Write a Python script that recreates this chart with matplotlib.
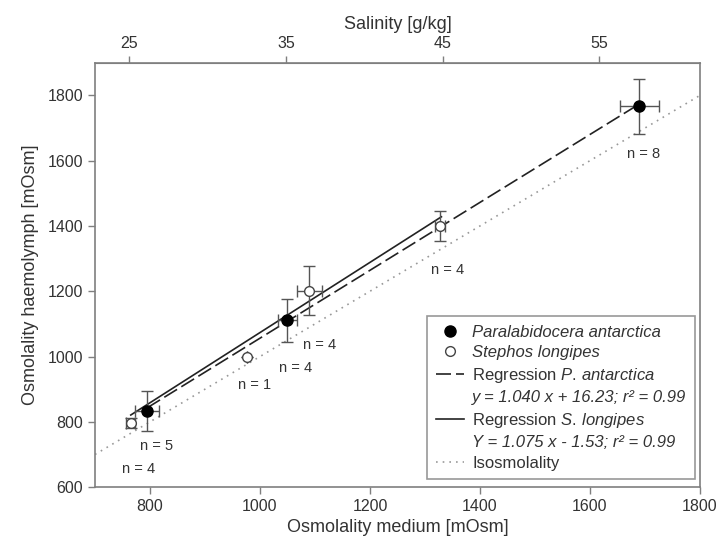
import numpy as np
import matplotlib
matplotlib.use("Agg")
import matplotlib.pyplot as plt
from matplotlib.lines import Line2D

plt.rcParams["font.family"] = ["Liberation Sans", "DejaVu Sans"]
plt.rcParams["mathtext.fontset"] = "custom"
plt.rcParams["mathtext.rm"] = "Liberation Sans"
plt.rcParams["mathtext.it"] = "Liberation Sans:italic"

# Paralabidocera antarctica (filled)
pa_x = [794, 1050, 1690]
pa_y = [832, 1111, 1767]
pa_xerr = [22, 17, 35]
pa_yerr = [61, 66, 84]

# Stephos longipes (open)
sl_x = [765, 976, 1090, 1327]
sl_y = [797, 1000, 1202, 1401]
sl_xerr = [8, 0, 23, 9]
sl_yerr = [16, 0, 76, 46]

# regressions
pa_slope, pa_icpt = 1.040, 16.23
sl_slope, sl_icpt = 1.075, -1.53
pa_range = [795, 1690]
sl_range = [765, 1330]
iso_range = [700, 1800]

# sample size labels
n_text = ["n = 4", "n = 5", "n = 1", "n = 4", "n = 4", "n = 4", "n = 8"]
n_x = [779, 812, 991, 1065, 1109, 1342, 1697]
n_y = [654, 726, 912, 965, 1034, 1264, 1621]

sal_ticks = [25, 35, 45, 55]

grey = "#7f7f7f"
txt = "#333333"

fig = plt.figure(figsize=(7.2, 5.51), dpi=100)
ax = fig.add_axes([0.132, 0.116, 0.840, 0.770])

xs = np.array(iso_range)
ax.plot(xs, xs, linestyle=(0, (1, 3)), color="#999999", lw=1.2)
xp = np.array(pa_range)
ax.plot(xp, pa_slope * xp + pa_icpt, color="#222222", lw=1.2, dashes=(9, 3))
xl = np.array(sl_range)
ax.plot(xl, sl_slope * xl + sl_icpt, color="#222222", lw=1.2)

ax.errorbar(sl_x, sl_y, xerr=sl_xerr, yerr=sl_yerr, fmt="o", mfc="white",
            mec="#444444", ms=7, ecolor="#555555", elinewidth=1, capsize=4,
            capthick=1, zorder=4)
ax.errorbar(pa_x, pa_y, xerr=pa_xerr, yerr=pa_yerr, fmt="o", color="black",
            ms=8, ecolor="#555555", elinewidth=1, capsize=4, capthick=1,
            zorder=5)

for t, x, y in zip(n_text, n_x, n_y):
    ax.text(x, y, t, ha="center", va="center", fontsize=10.5, color=txt)

ax.set_xlim(700, 1800)
ax.set_ylim(600, 1900)
ax.set_xticks([800, 1000, 1200, 1400, 1600, 1800])
ax.set_yticks([600, 800, 1000, 1200, 1400, 1600, 1800])
ax.set_xlabel("Osmolality medium [mOsm]", fontsize=13, color=txt, labelpad=4)
ax.set_ylabel("Osmolality haemolymph [mOsm]", fontsize=13, color=txt, labelpad=6)

for sp in ax.spines.values():
    sp.set_color(grey)
    sp.set_linewidth(1.2)
ax.tick_params(direction="out", length=5, width=1, color=grey,
               labelsize=11.5, labelcolor=txt)

sec = ax.secondary_xaxis("top", functions=(lambda o: (o - 50) / 28.5,
                                            lambda s: s * 28.5 + 50))
sec.set_xticks(sal_ticks)
sec.set_xlabel("Salinity [g/kg]", fontsize=13, color=txt, labelpad=5)
sec.tick_params(direction="out", length=5, width=1, color=grey,
                labelsize=11.5, labelcolor=txt)
sec.spines["top"].set_color(grey)

blank = Line2D([], [], linestyle="none")
handles = [
    Line2D([], [], linestyle="none", marker="o", color="black", ms=8),
    Line2D([], [], linestyle="none", marker="o", mfc="white", mec="#444444", ms=7),
    Line2D([], [], color="#222222", lw=1.2, dashes=(9, 3)),
    blank,
    Line2D([], [], color="#222222", lw=1.2),
    blank,
    Line2D([], [], linestyle=(0, (1, 3)), color="#999999", lw=1.2),
]
labels = [
    "Paralabidocera antarctica",
    "Stephos longipes",
    r"Regression $\mathit{P.\,antarctica}$",
    "y = 1.040 x + 16.23; r² = 0.99",
    r"Regression $\mathit{S.\,longipes}$",
    "Y = 1.075 x - 1.53; r² = 0.99",
    "Isosmolality",
]
italic_rows = [0, 1, 3, 5]
leg = ax.legend(handles, labels, loc="lower right", bbox_to_anchor=(0.992, 0.019),
                fontsize=12, frameon=True, fancybox=False, edgecolor=grey,
                handlelength=1.7, handletextpad=0.5, labelspacing=0.33,
                borderpad=0.5, borderaxespad=0)
leg.get_frame().set_linewidth(1.2)
for i, t in enumerate(leg.get_texts()):
    t.set_color(txt)
    if i in italic_rows:
        t.set_fontstyle("italic")

fig.savefig("out.png", dpi=100)
